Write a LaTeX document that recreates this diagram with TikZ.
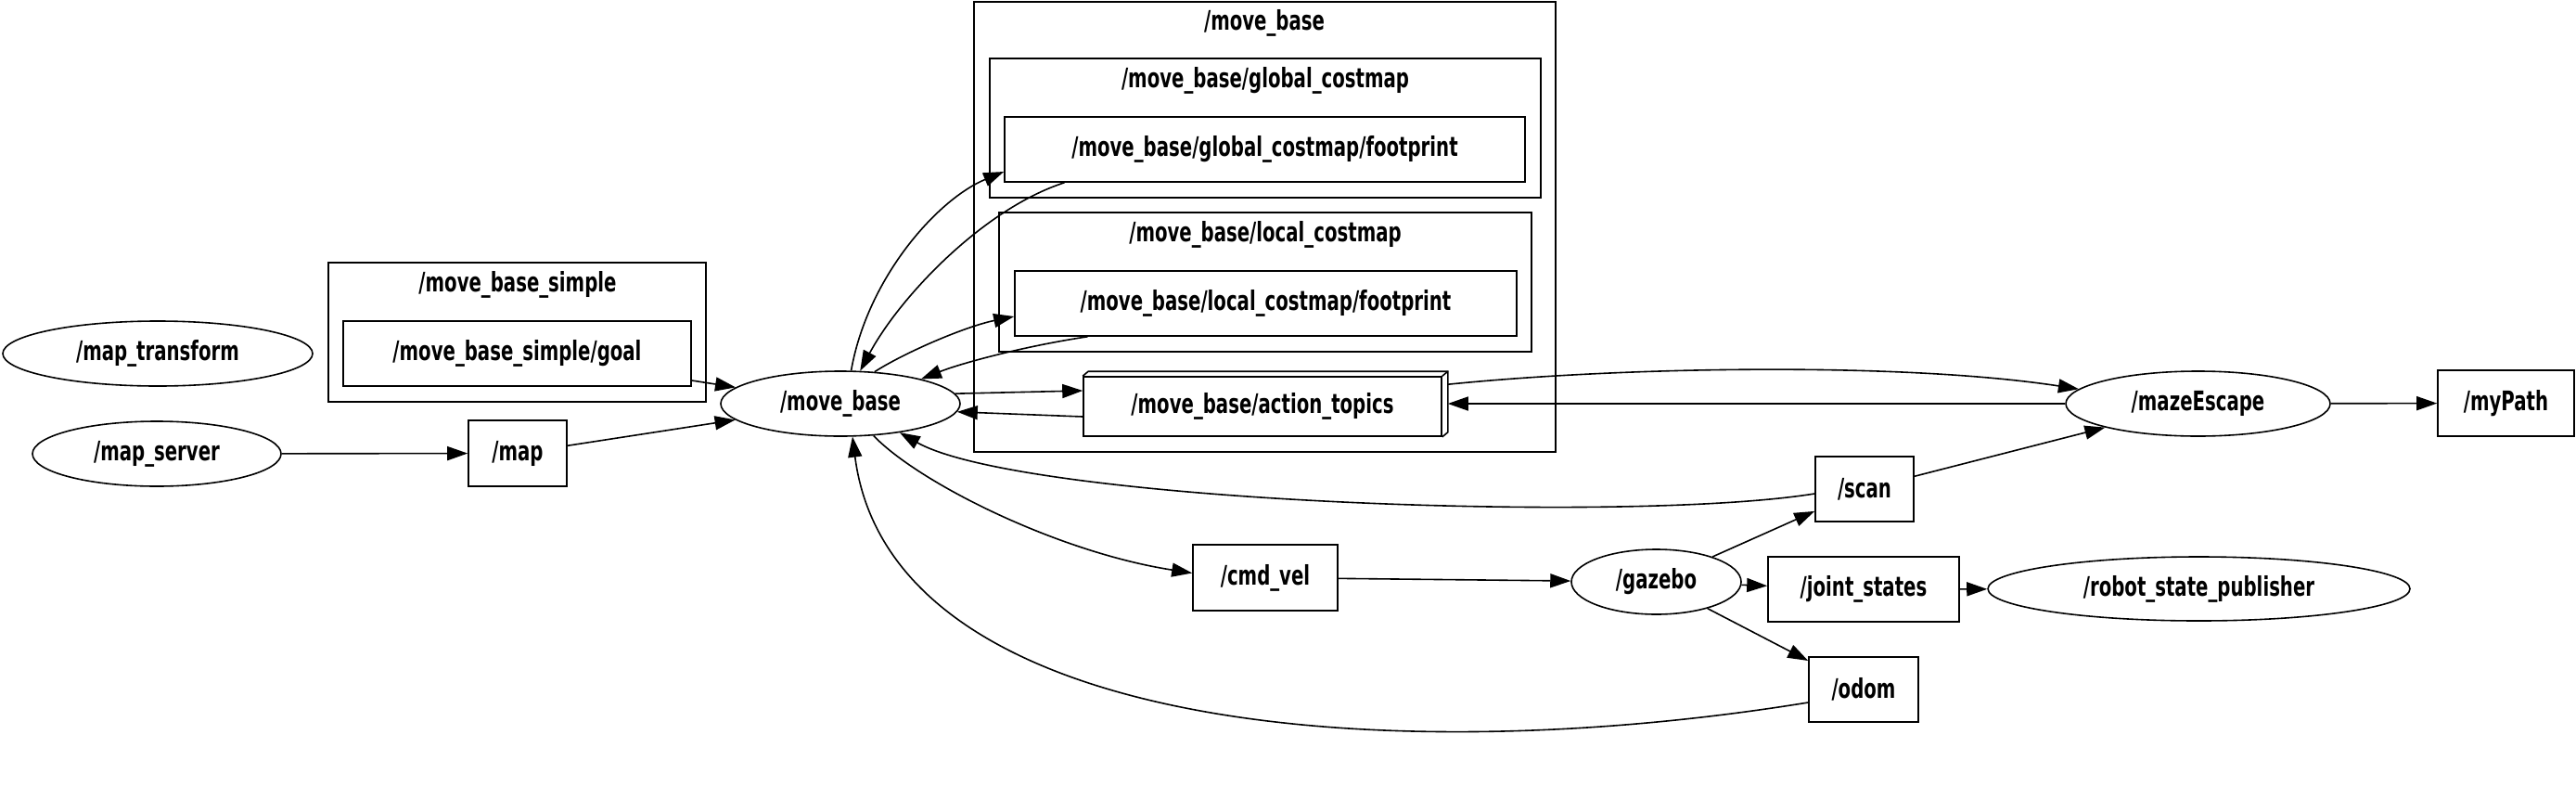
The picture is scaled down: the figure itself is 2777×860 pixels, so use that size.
\documentclass[tikz,border=0pt]{standalone}
\usepackage{fontspec}
\setmainfont{DejaVu Sans}[FakeStretch=0.68]
\usetikzlibrary{shapes.geometric,arrows.meta,calc}
\begin{document}
\begin{tikzpicture}[x=1pt,y=-1pt,
  lbl/.style={font=\fontsize{29}{34}\selectfont\bfseries},
  topic/.style={lbl,draw,rectangle,line width=1.6pt,inner sep=0pt},
  nodeel/.style={lbl,draw,ellipse,line width=1.6pt,inner sep=0pt},
  clus/.style={draw,line width=1.6pt},
  edge/.style={line width=1.6pt,-{Triangle[length=22pt,width=15pt]}}]
\useasboundingbox[fill=white] (0,0) rectangle (2777,860);

% clusters
\draw[clus] (354,283) rectangle (761,433);
\node[lbl] (tmbs) at (558,307) {/move\_base\_simple};
\draw[clus] (1050,2) rectangle (1677,487);
\node[lbl] (tmb) at (1363,25) {/move\_base};
\draw[clus] (1067,63) rectangle (1661,213);
\node[lbl] (tgc) at (1364,87) {/move\_base/global\_costmap};
\draw[clus] (1077,229) rectangle (1651,379);
\node[lbl] (tlc) at (1364,253) {/move\_base/local\_costmap};

% nodes
\node[nodeel,minimum width=334,minimum height=70] (mt) at (170,381) {/map\_transform};
\node[nodeel,minimum width=268,minimum height=70] (ms) at (169,489) {/map\_server};
\node[topic,minimum width=375,minimum height=70] (goal) at (557.5,381) {/move\_base\_simple/goal};
\node[topic,minimum width=106,minimum height=71] (map) at (558,488.5) {/map};
\node[nodeel,minimum width=258,minimum height=70] (mb) at (906,435) {/move\_base};
\node[topic,minimum width=561,minimum height=70] (gfp) at (1363.5,161) {/move\_base/global\_costmap/footprint};
\node[topic,minimum width=541,minimum height=70] (lfp) at (1364.5,327) {/move\_base/local\_costmap/footprint};
\node[topic,minimum width=386,minimum height=64] (at) at (1361,438) {/move\_base/action\_topics};
\draw[line width=1.6pt,line join=miter] (at.north west) -- ++(6,-5) -- ([xshift=6pt,yshift=5pt]at.north east) -- ([xshift=6pt,yshift=5pt]at.south east) -- (at.south east);
\draw[line width=1.6pt] (at.north east) -- ([xshift=6pt,yshift=5pt]at.north east);
\node[nodeel,minimum width=285,minimum height=70] (me) at (2369.5,435) {/mazeEscape};
\node[topic,minimum width=147,minimum height=71] (mp) at (2701.5,434.5) {/myPath};
\node[topic,minimum width=106,minimum height=70] (scan) at (2010,527) {/scan};
\node[nodeel,minimum width=183,minimum height=70] (gz) at (1785.5,627) {/gazebo};
\node[topic,minimum width=206,minimum height=70] (js) at (2009,635) {/joint\_states};
\node[nodeel,minimum width=455,minimum height=69] (rsp) at (2370.5,634.5) {/robot\_state\_publisher};
\node[topic,minimum width=118,minimum height=70] (odom) at (2009,743) {/odom};
\node[topic,minimum width=156,minimum height=71] (cmd) at (1364,622.5) {/cmd\_vel};

% edges
\draw[edge] ([yshift=-29pt]goal.east) -- (mb);
\draw[edge] (ms) -- (map);
\draw[edge] (map) -- (mb);
\draw[edge] (mb.72) .. controls (935,300) and (1010,215) .. ([yshift=-24pt]gfp.west);
\draw[edge] ([xshift=-216pt]gfp.south) .. controls (1060,225) and (970,320) .. (mb.59);
\draw[edge] (mb.43) .. controls (975,380) and (1040,352) .. ([yshift=-14pt]lfp.west);
\draw[edge] ([xshift=-192pt]lfp.south) .. controls (1110,372) and (1040,390) .. (mb.17);
\draw[edge] (mb.5.6) -- ([yshift=17pt]at.west);
\draw[edge] ([yshift=-11pt]at.west) -- (mb.-4);
\draw[edge] ([yshift=-5pt]scan.west) .. controls (1750,565) and (1100,540) .. (mb.-26);
\draw[edge] (mb.-44) .. controls (990,520) and (1140,595) .. ([yshift=5pt]cmd.west);
\draw[edge] ([yshift=-14pt]odom.west) .. controls (1500,830) and (960,790) .. (mb.-70);
\draw[edge] (cmd) -- (gz);
\draw[edge] (gz) -- (scan);
\draw[edge] (gz) -- (js);
\draw[edge] (gz) -- (odom);
\draw[edge] (js) -- (rsp);
\draw[edge] (scan) -- (me);
\draw[edge] ([xshift=6pt,yshift=-9pt]at.north east) .. controls (1750,395) and (2050,390) .. (me.173);
\draw[edge] (me.west) -- ([xshift=6pt,yshift=3pt]at.east);
\draw[edge] (me) -- (mp);
\end{tikzpicture}
\end{document}
